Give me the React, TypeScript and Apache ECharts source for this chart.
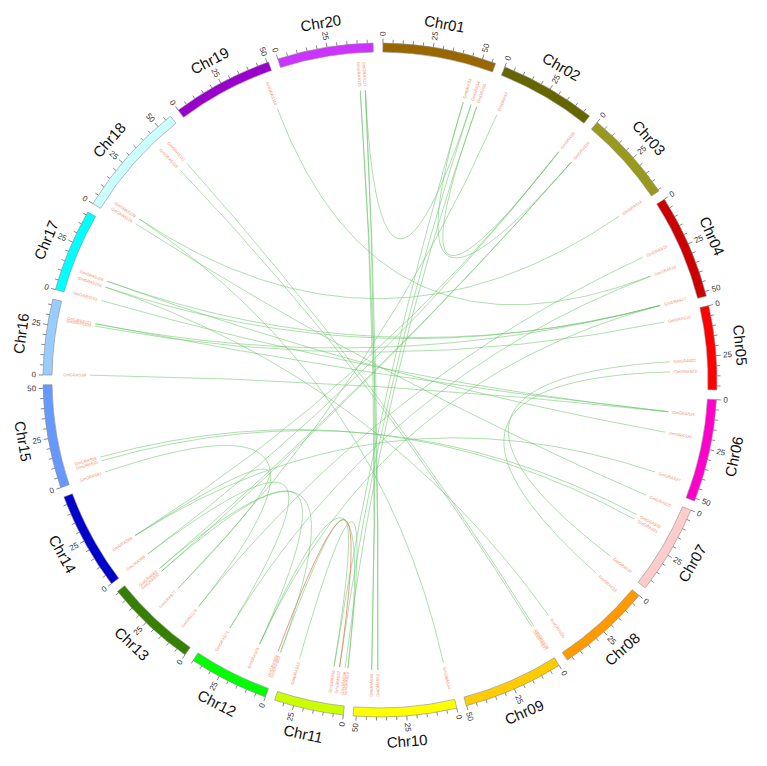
import React, { useEffect, useRef } from "react";
import * as echarts from "echarts";

// ---------------- DATA ----------------
const CHR_NAMES = [
  "Chr01", "Chr02", "Chr03", "Chr04", "Chr05", "Chr06", "Chr07", "Chr08", "Chr09", "Chr10",
  "Chr11", "Chr12", "Chr13", "Chr14", "Chr15", "Chr16", "Chr17", "Chr18", "Chr19", "Chr20",
];
// chromosome lengths (Mb)
const CHR_LENGTHS = [
  56.83, 48.58, 45.78, 52.39, 41.94, 51.42, 44.63, 47.84, 50.19, 51.57,
  34.77, 40.09, 45.87, 49.04, 51.76, 37.89, 41.64, 58.02, 50.75, 47.9,
];
const CHR_COLORS = [
  "#996600", "#666600", "#99991e", "#cc0000", "#ff0000", "#ff00cc", "#ffcccc", "#ff9900", "#ffcc00", "#ffff00",
  "#ccff00", "#00ff00", "#358000", "#0000cc", "#6699ff", "#99ccff", "#00ffff", "#ccffff", "#9900cc", "#cc33ff",
];
const TICK_STEP = 5;
const TICK_LABEL_STEP = 25;

// gene label name / chromosome (1-based) / position (Mb)
const GENE_NAMES = [
  "GmGRAS3", "GmGRAS4", "GmGRAS5",
  "GmGRAS7", "GmGRAS9",
  "GmGRAS10", "GmGRAS14",
  "GmGRAS15", "GmGRAS16", "GmGRAS17",
  "GmGRAS19", "GmGRAS22", "GmGRAS23",
  "GmGRAS24", "GmGRAS26", "GmGRAS27",
  "GmGRAS29", "GmGRAS30", "GmGRAS31", "GmGRAS32",
  "GmGRAS33", "GmGRAS35",
  "GmGRAS36", "GmGRAS37",
  "GmGRAS44", "GmGRAS52", "GmGRAS53",
  "GmGRAS55", "GmGRAS56", "GmGRAS57", "GmGRAS58", "GmGRAS63",
  "GmGRAS68", "GmGRAS69", "GmGRAS71", "GmGRAS73",
  "GmGRAS75", "GmGRAS77", "GmGRAS82", "GmGRAS83",
  "GmGRAS86", "GmGRAS89",
  "GmGRAS93", "GmGRAS95", "GmGRAS96",
  "GmGRAS98", "GmGRAS100", "GmGRAS101",
  "GmGRAS103", "GmGRAS104", "GmGRAS106",
  "GmGRAS108", "GmGRAS109", "GmGRAS110", "GmGRAS111",
  "GmGRAS114",
  "GmGRAS116", "GmGRAS117",
];
const GENE_CHR = [
  1, 1, 1,
  2, 2,
  3, 3,
  4, 4, 4,
  5, 5, 5,
  6, 6, 6,
  7, 7, 7, 7,
  8, 8,
  9, 9,
  10, 10, 10,
  11, 11, 11, 11, 11,
  12, 12, 12, 12,
  13, 13, 13, 13,
  14, 14,
  15, 15, 15,
  16, 16, 16,
  17, 17, 17,
  18, 18, 18, 18,
  19,
  20, 20,
];
const GENE_POS = [
  47.0, 51.7, 55.2,
  6.0, 47.5,
  3.4, 45.0,
  21.6, 33.3, 51.0,
  3.6, 26.6, 32.4,
  8.5, 20.4, 44.0,
  2.0, 14.4, 17.3, 42.6,
  5.9, 42.5,
  0.3, 1.5,
  1.5, 39.5, 43.0,
  0.3, 1.9, 5.1, 8.3, 28.6,
  0.5, 2.0, 13.4, 32.8,
  9.7, 25.4, 39.0, 41.0,
  1.0, 13.8,
  0.4, 7.1, 9.4,
  0.3, 28.6, 30.0,
  1.0, 9.1, 12.6,
  3.0, 6.4, 43.1, 48.6,
  46.7,
  40.0, 42.9,
];

// collinear gene pairs
const LINK_FROM = [
  "GmGRAS116", "GmGRAS117", "GmGRAS116", "GmGRAS117", "GmGRAS3", "GmGRAS4", "GmGRAS5", "GmGRAS117",
  "GmGRAS5", "GmGRAS3", "GmGRAS9", "GmGRAS10", "GmGRAS10", "GmGRAS7", "GmGRAS9", "GmGRAS14",
  "GmGRAS15", "GmGRAS16", "GmGRAS16", "GmGRAS17", "GmGRAS17", "GmGRAS17", "GmGRAS17", "GmGRAS19",
  "GmGRAS22", "GmGRAS23", "GmGRAS24", "GmGRAS24", "GmGRAS24", "GmGRAS26", "GmGRAS27", "GmGRAS29",
  "GmGRAS30", "GmGRAS31", "GmGRAS35", "GmGRAS36", "GmGRAS37", "GmGRAS44", "GmGRAS63", "GmGRAS71",
  "GmGRAS69", "GmGRAS68", "GmGRAS86", "GmGRAS82", "GmGRAS83", "GmGRAS89", "GmGRAS93",
];
const LINK_TO = [
  "GmGRAS52", "GmGRAS53", "GmGRAS53", "GmGRAS52", "GmGRAS58", "GmGRAS57", "GmGRAS56", "GmGRAS4",
  "GmGRAS9", "GmGRAS10", "GmGRAS86", "GmGRAS83", "GmGRAS82", "GmGRAS77", "GmGRAS89", "GmGRAS109",
  "GmGRAS75", "GmGRAS114", "GmGRAS73", "GmGRAS104", "GmGRAS106", "GmGRAS101", "GmGRAS71", "GmGRAS100",
  "GmGRAS32", "GmGRAS33", "GmGRAS98", "GmGRAS101", "GmGRAS103", "GmGRAS106", "GmGRAS89", "GmGRAS108",
  "GmGRAS95", "GmGRAS96", "GmGRAS104", "GmGRAS111", "GmGRAS110", "GmGRAS109", "GmGRAS55", "GmGRAS55",
  "GmGRAS57", "GmGRAS58", "GmGRAS73", "GmGRAS71", "GmGRAS68", "GmGRAS77", "GmGRAS75",
];
// 0 = segmental (green), 1 = tandem (red)
const LINK_KIND = [
  0, 0, 0, 0, 0, 0, 0, 0,
  0, 0, 0, 0, 0, 0, 0, 0,
  0, 0, 0, 0, 0, 0, 0, 0,
  0, 0, 0, 0, 0, 0, 0, 0,
  0, 0, 0, 0, 0, 0, 0, 0,
  1, 0, 0, 0, 0, 0, 0,
];

// ---------------- LAYOUT / STYLE ----------------
const CENTER: [number, number] = [380, 380];
const R_OUTER = 337;
const R_INNER = 328;
const R_TICK_MINOR = 340.5;
const R_TICK_MAJOR = 341.5;
const R_TICK_LABEL = 344;
const R_NAME = 362;
const R_GENE_LABEL = 294;
const R_LINK = 290;
const GAP = 4.852; // Mb-equivalent gap between chromosomes
const START = 1.45; // offset of Chr01 from the top
const FONT = "Liberation Sans, Arial, Helvetica, sans-serif";
const GREEN = "#6cc46c";
const RED = "#e2745a";
const GENE_COLOR = "#f08c68";

function buildOption() {
  const cum: number[] = [];
  let acc = 0;
  CHR_LENGTHS.forEach((l) => {
    cum.push(acc);
    acc += l;
  });
  const TOTAL = acc + CHR_LENGTHS.length * GAP;
  const chrStart = (i: number) => START + cum[i] + i * GAP;
  const geneIndex = new Map(GENE_NAMES.map((n, i) => [n, i] as [string, number]));
  const geneAngle = (g: number) => chrStart(GENE_CHR[g] - 1) + GENE_POS[g];

  const ringData = CHR_LENGTHS.map((len, i) => [R_OUTER, chrStart(i), chrStart(i) + len, i]);
  const nameData = CHR_LENGTHS.map((len, i) => [R_NAME, chrStart(i) + len / 2, i]);
  const tickData: number[][] = [];
  CHR_LENGTHS.forEach((len, i) => {
    for (let p = 0; p <= len + 1e-6; p += TICK_STEP) {
      tickData.push([R_OUTER, chrStart(i) + p, p, i]);
    }
  });
  const geneData = GENE_NAMES.map((_, g) => [R_GENE_LABEL, geneAngle(g), g]);
  const linkData = LINK_FROM.map((f, k) => [
    R_LINK,
    geneAngle(geneIndex.get(f) as number),
    geneAngle(geneIndex.get(LINK_TO[k]) as number),
    LINK_KIND[k],
  ]);

  const screenAngle = (api: any, r: number, a: number) => {
    const c = api.coord([0, a]);
    const p = api.coord([r, a]);
    return { c, p, ang: Math.atan2(p[1] - c[1], p[0] - c[0]) };
  };

  const radialText = (api: any, r: number, a: number, text: string, fontSize: number, fill: string) => {
    const { p, ang } = screenAngle(api, r, a);
    const right = Math.cos(ang) >= -1e-9;
    return {
      type: "text",
      x: p[0],
      y: p[1],
      rotation: right ? -ang : -ang - Math.PI,
      style: {
        text,
        fill,
        fontSize,
        fontFamily: FONT,
        align: right ? "left" : "right",
        verticalAlign: "middle",
      },
      silent: true,
    };
  };

  return {
    animation: false,
    backgroundColor: "#ffffff",
    polar: { center: CENTER, radius: [0, R_OUTER] },
    angleAxis: {
      type: "value",
      min: 0,
      max: TOTAL,
      startAngle: 90,
      clockwise: true,
      show: false,
      axisLine: { show: false },
      axisTick: { show: false },
      axisLabel: { show: false },
      splitLine: { show: false },
    },
    radiusAxis: {
      type: "value",
      min: 0,
      max: R_OUTER,
      show: false,
      axisLine: { show: false },
      axisTick: { show: false },
      axisLabel: { show: false },
      splitLine: { show: false },
    },
    series: [
      {
        type: "custom",
        name: "links",
        coordinateSystem: "polar",
        clip: false,
        silent: true,
        data: linkData,
        renderItem: (_params: any, api: any) => {
          const c = api.coord([0, 0]);
          const p1 = api.coord([api.value(0), api.value(1)]);
          const p2 = api.coord([api.value(0), api.value(2)]);
          const red = api.value(3) === 1;
          return {
            type: "bezierCurve",
            shape: { x1: p1[0], y1: p1[1], x2: p2[0], y2: p2[1], cpx1: c[0], cpy1: c[1] },
            style: { stroke: red ? RED : GREEN, fill: null, lineWidth: 0.85, opacity: red ? 0.85 : 0.65 },
            silent: true,
          };
        },
      },
      {
        type: "custom",
        name: "chromosomes",
        coordinateSystem: "polar",
        clip: false,
        silent: true,
        data: ringData,
        renderItem: (_params: any, api: any) => {
          const c = api.coord([0, 0]);
          const a = api.coord([R_INNER, api.value(1)]);
          const b = api.coord([R_INNER, api.value(2)]);
          const o = api.coord([api.value(0), api.value(1)]);
          const r0 = Math.hypot(a[0] - c[0], a[1] - c[1]);
          const r = Math.hypot(o[0] - c[0], o[1] - c[1]);
          const sa = Math.atan2(a[1] - c[1], a[0] - c[0]);
          let ea = Math.atan2(b[1] - c[1], b[0] - c[0]);
          while (ea < sa) ea += Math.PI * 2;
          return {
            type: "sector",
            shape: { cx: c[0], cy: c[1], r0, r, startAngle: sa, endAngle: ea, clockwise: true },
            style: { fill: CHR_COLORS[api.value(3)], stroke: "#8c8c8c", lineWidth: 0.6 },
            silent: true,
          };
        },
      },
      {
        type: "custom",
        name: "ticks",
        coordinateSystem: "polar",
        clip: false,
        silent: true,
        data: tickData,
        renderItem: (_params: any, api: any) => {
          const a = api.value(1);
          const pos = api.value(2);
          const major = Math.abs(pos % TICK_LABEL_STEP) < 1e-6;
          const p0 = api.coord([api.value(0), a]);
          const p1 = api.coord([major ? R_TICK_MAJOR : R_TICK_MINOR, a]);
          const children: any[] = [
            {
              type: "line",
              shape: { x1: p0[0], y1: p0[1], x2: p1[0], y2: p1[1] },
              style: { stroke: "#555555", lineWidth: 0.7 },
              silent: true,
            },
          ];
          if (major) {
            children.push(radialText(api, R_TICK_LABEL, a, String(Math.round(pos)), 8, "#333333"));
          }
          return { type: "group", children };
        },
      },
      {
        type: "custom",
        name: "names",
        coordinateSystem: "polar",
        clip: false,
        silent: true,
        data: nameData,
        renderItem: (_params: any, api: any) => {
          const { p, ang } = screenAngle(api, api.value(0), api.value(1));
          const upper = Math.sin(ang) < 0;
          return {
            type: "text",
            x: p[0],
            y: p[1],
            rotation: upper ? -(ang + Math.PI / 2) : -(ang - Math.PI / 2),
            style: {
              text: CHR_NAMES[api.value(2)],
              fill: "#111111",
              fontSize: 15,
              fontFamily: FONT,
              align: "center",
              verticalAlign: "middle",
            },
            silent: true,
          };
        },
      },
      {
        type: "custom",
        name: "genes",
        coordinateSystem: "polar",
        clip: false,
        silent: true,
        data: geneData,
        renderItem: (_params: any, api: any) =>
          radialText(api, api.value(0), api.value(1), GENE_NAMES[api.value(2)], 4.1, GENE_COLOR),
      },
    ],
  };
}

export default function App() {
  const ref = useRef<HTMLDivElement>(null);
  useEffect(() => {
    document.body.style.margin = "0";
    const chart = echarts.init(ref.current as HTMLDivElement, undefined, { renderer: "svg" });
    chart.setOption(buildOption() as any);
    return () => chart.dispose();
  }, []);
  return <div ref={ref} style={{ width: 767, height: 766, background: "#ffffff" }} />;
}
